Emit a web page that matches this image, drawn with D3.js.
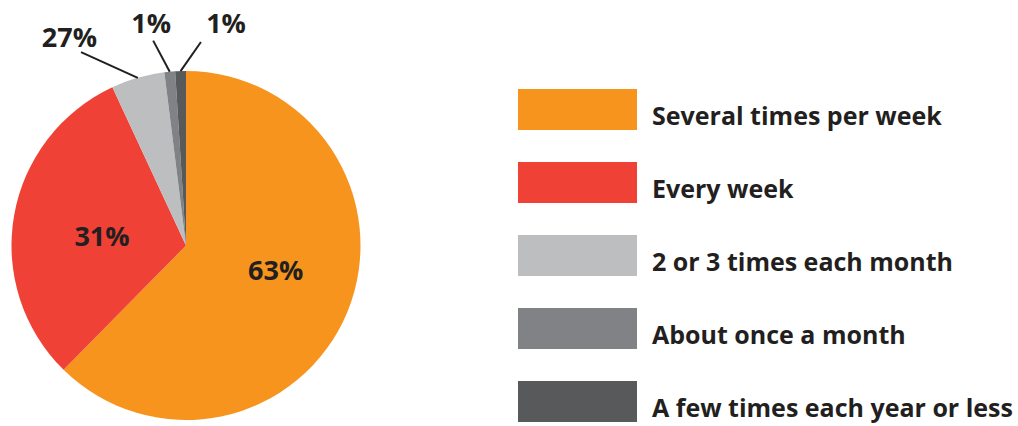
<!DOCTYPE html>
<html>
<head>
<meta charset="utf-8">
<script src="https://cdn.jsdelivr.net/npm/d3@7"></script>
<style>
  html, body { margin: 0; padding: 0; background: #fff; }
  svg { display: block; }
  text { font-family: "Open Sans", "Noto Sans", sans-serif; font-weight: 700; fill: #231f20; }
</style>
</head>
<body>
<svg id="chart" width="1018" height="426"></svg>
<script>
// How often: share of respondents per frequency
const categories = [
  "Several times per week",
  "Every week",
  "2 or 3 times each month",
  "About once a month",
  "A few times each year or less"
];
const values = [63, 31, 5, 1, 1];
const sliceLabels = ["63%", "31%", "27%", "1%", "1%"];
const colors = ["#f7941d", "#ef4136", "#bcbec0", "#808285", "#58595b"];

// Label placement (polar, degrees clockwise from 12 o'clock)
const insideSpots = [[105.3, 93], [276, 84.5]];
const calloutText = [null, null, [330.8, 239], [351.1, 225], [10.2, 226]];
const calloutEnd  = [null, null, [331.5, 220], [350.9, 207.5], [4.2, 204]];

const svg = d3.select("#chart");
const cx = 186, cy = 245.5, r = 174.5;
const g = svg.append("g").attr("transform", `translate(${cx},${cy})`);

const pie = d3.pie().sort(null).value(d => d);
const arcs = pie(values);
const arc = d3.arc().innerRadius(0).outerRadius(r);

g.selectAll("path.slice")
  .data(arcs)
  .join("path")
  .attr("class", "slice")
  .attr("d", arc)
  .attr("fill", (d, i) => colors[i]);

const polar = (deg, rad) => {
  const a = deg * Math.PI / 180;
  return [rad * Math.sin(a), -rad * Math.cos(a)];
};

// Labels inside the two large slices
insideSpots.forEach((s, i) => {
  const [x, y] = polar(s[0], s[1]);
  g.append("text")
    .attr("x", x).attr("y", y)
    .attr("dy", "0.36em")
    .attr("text-anchor", "middle")
    .attr("font-size", 27)
    .text(sliceLabels[i]);
});

// Callout labels for the thin slices
arcs.forEach((d, i) => {
  if (!calloutText[i]) return;
  const mid = (d.startAngle + d.endAngle) / 2 * 180 / Math.PI;
  const [x0, y0] = polar(mid, r);
  const [x1, y1] = polar(calloutEnd[i][0], calloutEnd[i][1]);
  g.append("line")
    .attr("x1", x0).attr("y1", y0)
    .attr("x2", x1).attr("y2", y1)
    .attr("stroke", "#231f20")
    .attr("stroke-width", 2);
  const [tx, ty] = polar(calloutText[i][0], calloutText[i][1]);
  g.append("text")
    .attr("x", tx).attr("y", ty)
    .attr("dy", "0.36em")
    .attr("text-anchor", "middle")
    .attr("font-size", 27)
    .text(sliceLabels[i]);
});

// Legend
const ly = d3.scalePoint().domain(categories).range([109.5, 401.5]);
const legend = svg.append("g");
const rows = legend.selectAll("g.row")
  .data(categories)
  .join("g")
  .attr("class", "row")
  .attr("transform", d => `translate(518,${ly(d)})`);

rows.append("rect")
  .attr("x", 0).attr("y", -20.5)
  .attr("width", 119).attr("height", 41)
  .attr("fill", (d, i) => colors[i]);

rows.append("text")
  .attr("x", 134)
  .attr("y", 6)
  .attr("dy", "0.36em")
  .attr("font-size", 25)
  .text(d => d);
</script>
</body>
</html>
